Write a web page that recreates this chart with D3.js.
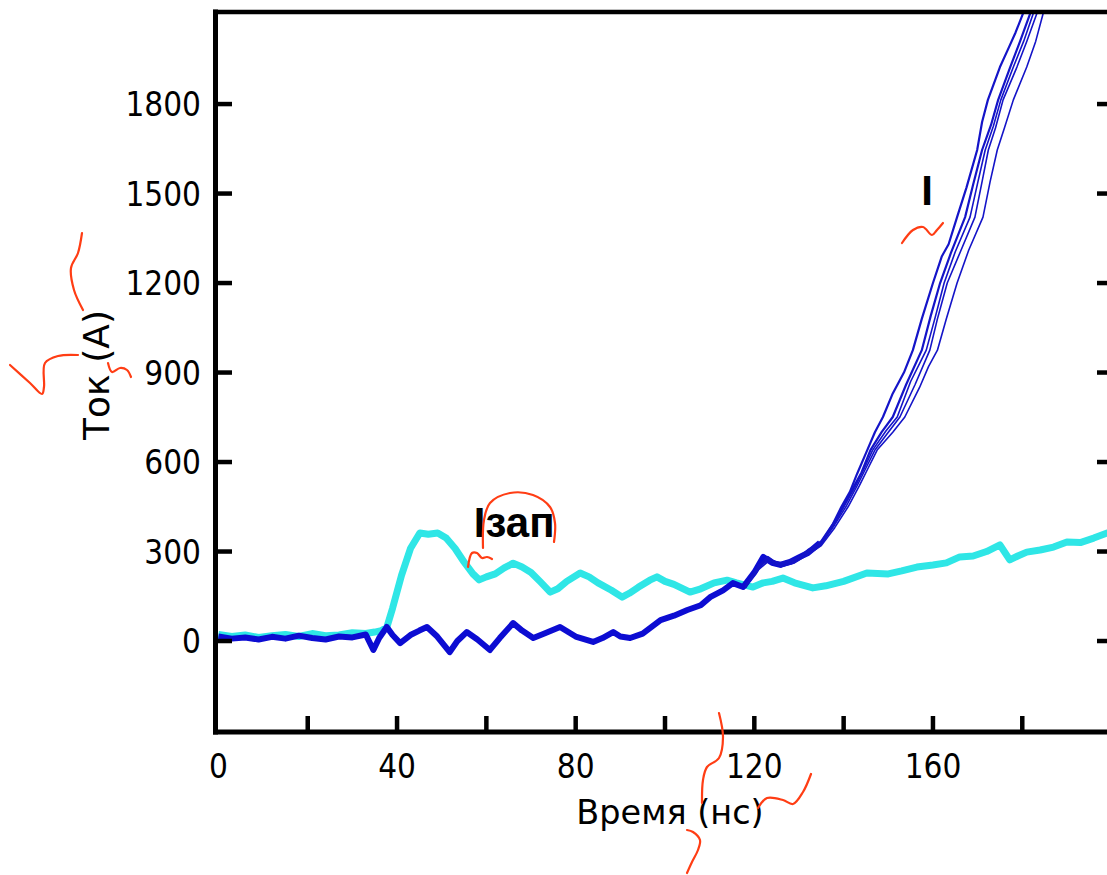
<!DOCTYPE html>
<html><head><meta charset="utf-8">
<script src="https://cdn.jsdelivr.net/npm/d3@7"></script>
<style>body{margin:0;background:#fff}svg{display:block}</style>
</head><body>
<svg id="c" width="1107" height="875"></svg>
<script>
// ---- data ----
const xTicks = [0,20,40,60,80,100,120,140,160,180,200];
const xLabels = [0,40,80,120,160];
const yTicks = [0,300,600,900,1200,1500,1800];

// Iзап (cyan)
const cyanT = [0,3,6,9,12,15,18,21,24,27,30,33,35,36.5,37.7,39,41,43,45.1,47,49.1,51,53,55,57,58.4,60,62,64,66,68,70,72,74.3,76,78,81,83,85,88,90.4,92,94,96.6,98.2,100,102,105.6,108,111,113.9,116,119.7,122,124,126.4,129,133.1,136,140,145.2,150,153,156.4,160,163,166,169,172,175,177.2,179,181,184,187,190,193,196,199,201];
const cyanV = [22,15,20,12,18,22,15,25,18,20,28,25,30,35,45,110,220,310,362,358,362,345,310,265,225,205,215,225,245,261,248,230,200,164,175,200,228,215,195,170,147,160,180,204,215,200,190,164,175,195,204,195,181,195,200,211,195,178,185,200,228,225,235,248,255,262,282,285,300,322,272,285,298,305,315,332,330,345,362,365];

// I (blue), common low part
const blueT = [0,3,6,9,12,15,18,21,24,27,30,33,34.7,36,37.7,39,40.7,43,45,46.7,49,51.8,53.5,55.6,58,60.8,63,66,68,70.5,73,76.5,80,83.9,86,88.4,90,92.2,95,99,102,105,108,110.1,113,115.2,117.5,120,122,124,125.8,128,130.2,132,134.7];
const blueV = [15,8,12,5,14,8,18,10,5,15,12,22,-30,10,47,20,-7,20,35,47,15,-37,0,30,5,-30,10,60,35,10,25,47,15,-3,10,30,15,10,25,70,85,104,120,147,170,194,181,230,282,262,255,265,282,295,329];

// I (blue), individual shots, rising part [t, value]
const shot1 = [[118,180],[121,250],[123,282],[126,250],[129,270],[132,300],[135,335],[137.5,390],[139.5,450],[141.4,500],[143,560],[145,630],[147,700],[148.8,751],[151,830],[153.5,900],[155.5,975],[157.5,1080],[160,1200],[162,1290],[163.5,1330],[165.4,1421],[167.5,1520],[169.9,1646],[171,1740],[172.3,1814],[175,1924],[177,1990],[178.5,2040],[180.2,2105],[181.5,2160]];
const shot2 = [[118,185],[121,245],[123,275],[126,258],[129,268],[132,305],[135,330],[138,400],[140,455],[142,510],[144,565],[146,640],[148.5,700],[151,751],[154,860],[157.5,975],[159.5,1090],[161.6,1200],[164,1300],[167.2,1421],[169,1530],[171,1646],[173,1730],[174.6,1814],[177.3,1924],[179.5,2010],[181.8,2105],[183,2160]];
const shot3 = [[118,178],[121,255],[123,270],[126,262],[129,275],[132,295],[135,325],[138,390],[140.5,450],[143,520],[145,580],[147,640],[150,700],[152.6,751],[156,860],[159.3,975],[161,1080],[163.2,1200],[166,1300],[169.4,1421],[171,1540],[172.4,1646],[174,1720],[175.7,1814],[178.8,1924],[181,2010],[183.3,2105],[184.5,2160]];
const shot4 = [[118,182],[121,240],[123,265],[126,250],[129,262],[132,290],[135,320],[138,380],[141,450],[143.5,520],[145.5,580],[147.5,640],[151,700],[153.7,751],[157,850],[159,920],[161,975],[163,1080],[165.4,1200],[168,1310],[171.2,1421],[172.8,1540],[174.4,1646],[176,1720],[178,1814],[181,1924],[183,2010],[184.7,2105],[186,2160]];
const shot5 = [[118,181],[121,248],[123,272],[126,255],[129,272],[132,298],[135,328],[138,395],[140,448],[142.5,515],[144.5,575],[146.5,640],[149.5,705],[152,751],[155,870],[158.5,975],[160.5,1085],[162.5,1200],[165,1305],[168.3,1421],[170,1535],[171.7,1646],[173.5,1725],[175.2,1814],[178,1924],[180.3,2010],[182.5,2105],[183.8,2160]];
const shots = [shot1, shot2, shot3, shot4, shot5];

const labels = [{text:"Iзап", t:57.2, v:348}, {text:"I", t:157.4, v:1461}];

// ---- layout ----
const W = 1107, H = 875;
const L = 215.5, R = 1111.6, T = 12, B = 732;
const x = d3.scaleLinear().domain([-0.65, 200]).range([L, R]);
const y = d3.scaleLinear().domain([-305, 2108.6]).range([B, T]);

const svg = d3.select("#c");
svg.append("defs").append("clipPath").attr("id","plot")
  .append("rect").attr("x",L).attr("y",T).attr("width",R-L).attr("height",B-T);

const g = svg.append("g").attr("clip-path","url(#plot)");

const lineTV = d3.line().x(d=>x(d[0])).y(d=>y(d[1]));
const cyan = cyanT.map((t,i)=>[t,cyanV[i]]);
const blue = blueT.map((t,i)=>[t,blueV[i]]);

g.append("path").datum(cyan).attr("d",lineTV)
  .attr("fill","none").attr("stroke","#2fe6e6").attr("stroke-width",7).attr("stroke-linejoin","round");
g.append("path").datum(blue).attr("d",lineTV)
  .attr("fill","none").attr("stroke","#0c0cd2").attr("stroke-width",6).attr("stroke-linejoin","round");
shots.forEach((s,i)=>{
  g.append("path").datum(s).attr("d",lineTV)
    .attr("fill","none").attr("stroke","#1414c8").attr("stroke-width", i<2?2.2:1.6).attr("stroke-linejoin","round");
});

// axes
const axes = svg.append("g");
const font = "'DejaVu Sans Condensed','DejaVu Sans',sans-serif";
const font2 = "'DejaVu Sans',sans-serif";
axes.append("line").attr("x1",L).attr("x2",L).attr("y1",T-2.5).attr("y2",B+2.5).attr("stroke","#000").attr("stroke-width",5);
axes.append("line").attr("x1",L-2.5).attr("x2",W).attr("y1",T).attr("y2",T).attr("stroke","#000").attr("stroke-width",4.5);
axes.append("line").attr("x1",L-2.5).attr("x2",W).attr("y1",B).attr("y2",B).attr("stroke","#000").attr("stroke-width",5);

// bottom ticks (inward)
axes.selectAll(".xt").data(xTicks.filter(v=>v>0)).enter().append("line")
  .attr("x1",d=>x(d)).attr("x2",d=>x(d)).attr("y1",B).attr("y2",B-16)
  .attr("stroke","#000").attr("stroke-width",4.5);
axes.selectAll(".xl").data(xLabels).enter().append("text")
  .attr("x",d=>x(d)).attr("y",778).attr("text-anchor","middle")
  .style("font-family",font).style("font-size","33px").attr("fill","#000").text(d=>d);

// left ticks and right ticks
axes.selectAll(".yt").data(yTicks).enter().append("line")
  .attr("x1",L).attr("x2",232).attr("y1",d=>y(d)).attr("y2",d=>y(d))
  .attr("stroke","#000").attr("stroke-width",4.5);
axes.selectAll(".yr").data(yTicks).enter().append("line")
  .attr("x1",1097).attr("x2",W).attr("y1",d=>y(d)).attr("y2",d=>y(d))
  .attr("stroke","#000").attr("stroke-width",4.5);
axes.selectAll(".yl").data(yTicks).enter().append("text")
  .attr("x",201).attr("y",d=>y(d)+12).attr("text-anchor","end")
  .style("font-family",font).style("font-size","33px").attr("fill","#000").text(d=>d);

// axis titles
svg.append("text").attr("x",670).attr("y",824).attr("text-anchor","middle")
  .style("font-family",font2).style("font-size","33.5px").attr("fill","#000").text("Время (нс)");
svg.append("text").attr("transform","translate(109,375) rotate(-90)").attr("text-anchor","middle")
  .style("font-family",font2).style("font-size","36px").attr("fill","#000").text("Ток (А)");

// series labels
svg.selectAll(".lab").data(labels).enter().append("text")
  .attr("x",d=>x(d.t)).attr("y",d=>y(d.v))
  .style("font-family","'Liberation Sans',Arial,sans-serif").style("font-weight","bold")
  .style("font-size","42px").attr("fill","#000").text(d=>d.text);

// red hand-drawn annotation strokes (overlay)
const scribbles = [
  [[82,233],[78,253],[71,268],[74,290],[83,310]],
  [[10,365],[30,383],[42,394],[44,387],[45,363],[58,356],[78,355]],
  [[108,363],[112,372],[120,368],[127,370],[131,377]],
  [[902,243],[913,230],[923,227],[932,235],[937,230],[943,223]],
  [[483,548],[484,520],[490,503],[510,493],[533,495],[550,507],[555,523],[554,542]],
  [[468,567],[472,553],[477,553],[482,558],[487,557],[492,559]],
  [[719,713],[723,737],[719,758],[707,767],[703,780],[702,803]],
  [[758,808],[767,798],[783,800],[793,804],[803,792],[811,774]],
  [[687,830],[693,832],[700,840],[698,850],[692,862],[687,873]]
];
const sl = d3.line().curve(d3.curveCatmullRom);
svg.selectAll(".scr").data(scribbles).enter().append("path")
  .attr("d",sl).attr("fill","none").attr("stroke","#ff3d14").attr("stroke-width",2.2).attr("stroke-linecap","round");
</script>
</body></html>
